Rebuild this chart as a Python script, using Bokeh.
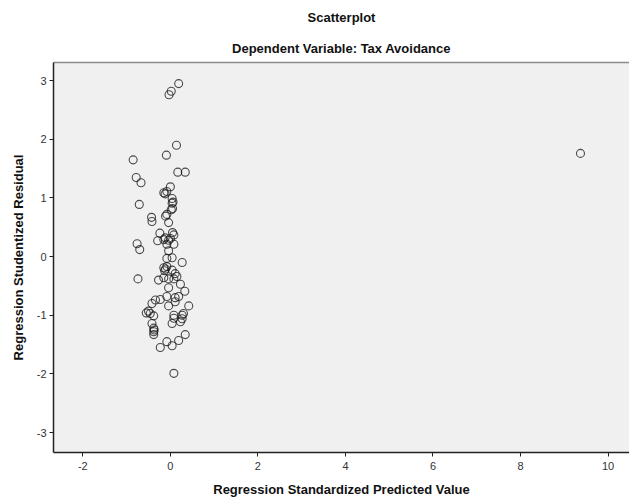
from bokeh.plotting import figure
from bokeh.models import Range1d, FixedTicker, ColumnDataSource, LinearAxis, Title
from bokeh.embed import file_html
from bokeh.resources import INLINE

# Data (standardized predicted value, studentized residual)
pred = [0.19, 0.02, -0.03,
        0.14, -0.09, -0.85, 0.17, 0.34, -0.78, -0.67, 0.00,
        -0.15, -0.08, -0.12, 0.04, 0.06, -0.71, 0.04, 0.05, 0.02,
        -0.08, -0.11, -0.43, -0.42, -0.04,
        -0.24, -0.29, 0.05, 0.08, -0.15, -0.04, 0.00, 0.08, -0.08, -0.76, -0.70, -0.04, -0.12,
        -0.08, 0.04, 0.27, -0.15, -0.11, -0.08, -0.13, 0.04, 0.11, 0.15, 0.08, -0.74, -0.27,
        -0.15, -0.04, 0.23, -0.04, 0.33,
        -0.08, 0.11, 0.19, -0.23, -0.34, -0.42, 0.11, -0.04, 0.42,
        -0.50, -0.46, -0.38, -0.55, 0.08, 0.27, 0.30,
        0.08, 0.27, 0.04, 0.23, -0.42, -0.38, -0.38, -0.38, -0.37,
        0.34, 0.19, 0.04, -0.08, -0.23, 0.08,
        9.37]
resid = [2.95, 2.82, 2.76,
         1.90, 1.73, 1.65, 1.44, 1.44, 1.35, 1.26, 1.19,
         1.09, 1.11, 1.07, 0.99, 0.93, 0.89, 0.91, 0.82, 0.80,
         0.72, 0.69, 0.67, 0.60, 0.58,
         0.40, 0.27, 0.41, 0.37, 0.29, 0.28, 0.31, 0.21, 0.21, 0.22, 0.12, 0.10, 0.32,
         -0.03, -0.02, -0.10, -0.19, -0.21, -0.17, -0.24, -0.23, -0.29, -0.34, -0.38, -0.38, -0.40,
         -0.36, -0.38, -0.47, -0.53, -0.59,
         -0.68, -0.70, -0.68, -0.73, -0.74, -0.80, -0.77, -0.84, -0.84,
         -0.93, -0.97, -1.01, -0.96, -1.00, -1.00, -0.97,
         -1.05, -1.06, -1.14, -1.11, -1.14, -1.22, -1.28, -1.33, -1.25,
         -1.33, -1.43, -1.52, -1.45, -1.55, -1.99,
         1.76]

x_ticks = [-2, 0, 2, 4, 6, 8, 10]
y_ticks = [-3, -2, -1, 0, 1, 2, 3]

title_text = "Scatterplot"
subtitle_text = "Dependent Variable: Tax Avoidance"
x_title = "Regression Standardized Predicted Value"
y_title = "Regression Studentized Residual"

FONT = "Liberation Sans"

p = figure(width=629, height=501, output_backend="svg", toolbar_location=None, title=None,
           x_range=Range1d(-2.67, 10.49), y_range=Range1d(-3.34, 3.31),
           min_border_left=53, min_border_right=0, min_border_top=62, min_border_bottom=49,
           background_fill_color="#f0f0f0", border_fill_color="white")

p.outline_line_color = None
p.xgrid.visible = False
p.ygrid.visible = False

xa = p.below[0]
ya = p.left[0]

# top frame line (no right edge, as in the reference)
top = LinearAxis(axis_line_color="#8a8a8a", axis_line_width=1.5,
                 major_tick_line_color=None, minor_tick_line_color=None,
                 major_label_text_font_size="0px", major_label_standoff=0,
                 major_tick_out=0, major_tick_in=0, ticker=FixedTicker(ticks=[]))
p.add_layout(top, "above")

p.add_layout(Title(text=subtitle_text, align="center",
                   text_font=FONT, text_font_size="13px", text_font_style="bold",
                   text_color="#111111", standoff=13), "above")
p.add_layout(Title(text=title_text, align="center",
                   text_font=FONT, text_font_size="13px", text_font_style="bold",
                   text_color="#111111", standoff=15), "above")

for ax in (xa, ya):
    ax.axis_line_color = "#222222"
    ax.axis_line_width = 1.5
    ax.major_tick_line_color = "#222222"
    ax.major_tick_in = 0
    ax.major_tick_out = 4
    ax.minor_tick_line_color = None
    ax.major_label_text_font = FONT
    ax.major_label_text_font_size = "11px"
    ax.major_label_text_color = "#333333"
    ax.axis_label_text_font = FONT
    ax.axis_label_text_font_size = "13px"
    ax.axis_label_text_font_style = "bold"
    ax.axis_label_text_color = "#111111"

xa.ticker = FixedTicker(ticks=x_ticks)
ya.ticker = FixedTicker(ticks=y_ticks)
xa.major_label_overrides = {t: str(t) for t in x_ticks}
ya.major_label_overrides = {t: str(t) for t in y_ticks}
xa.major_label_standoff = 5
xa.axis_label_standoff = 9
ya.major_label_standoff = 3
ya.axis_label_standoff = 8
xa.axis_label = x_title
ya.axis_label = y_title

src = ColumnDataSource(dict(x=pred, y=resid))
p.scatter("x", "y", source=src, marker="circle", size=8, fill_color=None,
          line_color="#111111", line_alpha=0.75, line_width=1.1)

open("out.html", "w").write(file_html(p, INLINE))
